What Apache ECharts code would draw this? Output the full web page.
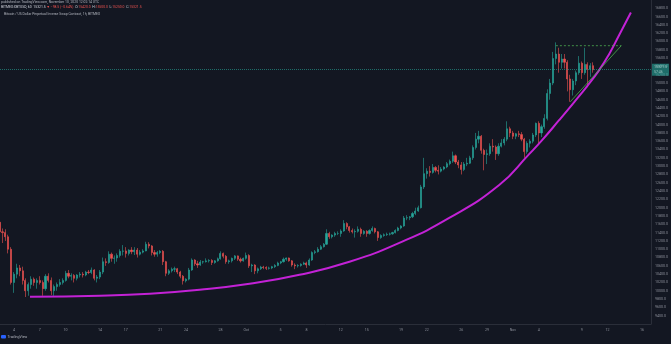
<!DOCTYPE html>
<html>
<head>
<meta charset="utf-8">
<script src="https://cdn.jsdelivr.net/npm/echarts@6/dist/echarts.min.js"></script>
<style>
  html, body { margin: 0; padding: 0; background: #131722; }
  #chart { width: 671px; height: 344px; }
</style>
</head>
<body>
<div id="chart"></div>
<script>
// XBTUSD 8-hour candles, Sep 2 08:00 UTC to Nov 10 2020 — [open, high, low, close]
const candles = [
  [11650,11700,11300,11420],[11420,11500,11150,11400],
  [11400,11480,11200,11300],[11300,11350,10900,11000],[11000,11050,10150,10200],
  [10200,10450,9950,10400],[10400,10650,10300,10550],[10550,10620,10350,10480],
  [10480,10580,10150,10250],[10250,10300,9850,10000],[10000,10200,9880,10150],
  [10150,10350,10050,10280],[10280,10320,10120,10200],[10200,10300,10050,10250],
  [10250,10350,10150,10200],[10200,10250,9880,10050],[10050,10400,10000,10350],
  [10350,10420,10200,10250],[10250,10320,9900,10000],[10000,10150,9880,10100],
  [10100,10200,10000,10150],[10150,10280,10100,10200],[10200,10300,10150,10250],
  [10250,10480,10220,10420],[10420,10500,10300,10350],[10350,10420,10250,10370],
  [10370,10400,10200,10300],[10300,10400,10250,10380],[10380,10450,10320,10400],
  [10400,10450,10320,10380],[10380,10480,10350,10450],[10450,10500,10400,10440],
  [10440,10560,10400,10500],[10500,10520,10250,10300],[10300,10380,10200,10330],
  [10330,10500,10280,10450],[10450,10800,10400,10700],[10700,10780,10600,10680],
  [10680,10950,10650,10880],[10880,10920,10700,10780],[10780,10850,10650,10790],
  [10790,10900,10700,10850],[10850,11000,10800,10950],[10950,11100,10850,10960],
  [10960,11050,10800,10900],[10900,11000,10850,10980],[10980,11050,10880,10940],
  [10940,11050,10860,10980],[10980,11030,10800,10880],[10880,10980,10850,10930],
  [10930,11000,10900,10960],[10960,11180,10950,11120],[11120,11170,11020,11080],
  [11080,11100,10850,10920],[10920,10980,10820,10880],[10880,10960,10820,10920],
  [10920,10980,10880,10950],[10950,10980,10620,10700],[10700,10720,10350,10420],
  [10420,10520,10380,10480],[10480,10560,10440,10520],[10520,10580,10450,10530],
  [10530,10550,10400,10450],[10450,10480,10300,10350],[10350,10380,10150,10240],
  [10240,10300,10200,10280],[10280,10550,10250,10500],[10500,10780,10480,10740],
  [10740,10760,10600,10650],[10650,10720,10550,10620],[10620,10740,10600,10690],
  [10690,10720,10650,10700],[10700,10780,10680,10720],[10720,10760,10680,10730],
  [10730,10760,10620,10680],[10680,10740,10650,10720],[10720,10800,10700,10770],
  [10770,10950,10750,10900],[10900,10920,10780,10830],[10830,10860,10650,10700],
  [10700,10750,10650,10720],[10720,10800,10680,10780],[10780,10860,10740,10840],
  [10840,10850,10720,10760],[10760,10800,10680,10720],[10720,10800,10700,10780],
  [10780,10920,10750,10850],[10850,10880,10550,10600],[10600,10650,10450,10620],
  [10620,10640,10400,10480],[10480,10560,10420,10530],[10530,10600,10500,10570],
  [10570,10600,10520,10560],[10560,10590,10500,10540],[10540,10580,10510,10550],
  [10550,10600,10520,10580],[10580,10640,10550,10610],[10610,10700,10590,10670],
  [10670,10720,10640,10700],[10700,10800,10680,10760],[10760,10800,10720,10790],
  [10790,10800,10700,10720],[10720,10740,10580,10620],[10620,10660,10520,10600],
  [10600,10640,10560,10610],[10610,10660,10580,10640],[10640,10700,10620,10670],
  [10670,10700,10550,10620],[10620,10780,10600,10740],[10740,10950,10720,10920],
  [10920,10980,10880,10940],[10940,11050,10920,11000],[11000,11100,10980,11060],
  [11060,11150,11040,11120],[11120,11480,11100,11380],[11380,11420,11250,11300],
  [11300,11360,11260,11340],[11340,11420,11300,11380],[11380,11430,11340,11380],
  [11380,11480,11300,11440],[11440,11700,11420,11620],[11620,11650,11480,11540],
  [11540,11560,11400,11450],[11450,11500,11380,11420],[11420,11480,11280,11430],
  [11430,11550,11400,11480],[11480,11520,11300,11380],[11380,11460,11350,11430],
  [11430,11460,11300,11380],[11380,11480,11350,11450],[11450,11550,11420,11500],
  [11500,11520,11380,11420],[11420,11440,11200,11280],[11280,11360,11250,11330],
  [11330,11380,11300,11350],[11350,11400,11320,11360],[11360,11400,11330,11370],
  [11370,11420,11350,11400],[11400,11480,11380,11450],[11450,11540,11430,11510],
  [11510,11580,11480,11560],[11560,11800,11540,11750],[11750,11820,11700,11760],
  [11760,11800,11700,11780],[11780,11900,11750,11860],[11860,12000,11820,11920],
  [11920,12050,11900,12000],[12000,12550,11980,12500],[12500,13200,12450,12820],
  [12820,12950,12700,12880],[12880,13000,12750,12850],[12850,13050,12820,12970],
  [12970,13000,12850,12900],[12900,13020,12800,12880],[12880,12980,12850,12930],
  [12930,13000,12900,12980],[12980,13100,12950,13060],[13060,13160,13020,13120],
  [13120,13350,13080,13250],[13250,13280,13050,13100],[13100,13150,12950,13030],
  [13030,13100,12800,12920],[12920,13100,12880,13050],[13050,13200,13000,13070],
  [13070,13250,13050,13200],[13200,13500,13150,13450],[13450,13800,13400,13650],
  [13650,13850,13550,13720],[13720,13750,13300,13380],[13380,13420,12900,13280],
  [13280,13400,13050,13300],[13300,13550,13250,13480],[13480,13650,13350,13460],
  [13460,13500,13150,13300],[13300,13550,13250,13480],[13480,13650,13450,13560],
  [13560,13700,13500,13650],[13650,14080,13600,13900],[13900,13950,13700,13800],
  [13800,13850,13650,13720],[13720,13800,13650,13780],[13780,13850,13700,13760],
  [13760,13820,13600,13650],[13650,13680,13200,13350],[13350,13600,13300,13550],
  [13550,13650,13450,13600],[13600,13800,13550,13750],[13750,14050,13700,14030],
  [14030,14080,13550,13800],[13800,14000,13700,13950],[13950,14250,13900,14150],
  [14150,14850,14100,14750],[14750,15100,14600,15000],[15000,15750,14950,15590],
  [15590,15980,15450,15700],[15700,15850,15250,15500],[15500,15700,15350,15580],
  [15580,15700,15350,15500],[15500,15550,14800,15100],[15100,15200,14550,14840],
  [14840,15100,14700,15050],[15050,15300,14950,15250],[15250,15650,15200,15480],
  [15480,15520,15100,15250],[15250,15850,15200,15450],[15450,15500,14900,15330],
  [15330,15480,15150,15420],[15420,15500,15250,15321.5]
];
// first candle open time, in days after Sep 1 00:00 UTC, and candle length
const firstCandleDay = 1 + 8 / 24;
const candleStepDays = 8 / 24;

// parabolic support curve (day, price)
const curveDays   = [4.86, 12.98, 18.78, 24.59, 30.39, 36.19, 42.0, 47.8, 53.6, 59.41, 62.89, 64.4, 66.37, 68.11, 69.62, 71.01, 72.17, 73.33, 74.72];
const curvePrices = [9856, 9880, 9928, 10024, 10168, 10384, 10697, 11153, 11753, 12545, 13290, 13626, 14106, 14538, 14922, 15306, 15690, 16147, 16699];

// triangle drawn over the November range
const resistanceLine = [[66.0, 15900], [73.6, 15900]];
const supportLine    = [[67.67, 14550], [73.6, 15900]];

// time-axis ticks (days after Sep 1) and their labels
const tickDays   = [3, 6, 9, 13, 16, 20, 23, 27, 30, 34, 37, 41, 44, 48, 51, 55, 58, 61, 64, 69, 72, 76];
const tickLabels = ['4', '7', '10', '14', '17', '21', '24', '28', 'Oct', '5', '8', '12', '15', '19', '22', '26', '29', 'Nov', '4', '9', '12', '16'];

const countdown = '57:46';

const UP = '#26a69a', DOWN = '#ef5350';
const AXIS_TEXT = '#8a8e98';
const FONT = 'Roboto, "Noto Sans", sans-serif';

const candleData = candles.map((c, i) => [firstCandleDay + i * candleStepDays, c[0], c[3], c[2], c[1]]);
const curveData = curveDays.map((d, i) => [d, curvePrices[i]]);

const last = candles[candles.length - 1];
const prevClose = candles[candles.length - 2][3];
const change = last[3] - prevClose;
const changePct = change / prevClose * 100;
const fmt = v => v.toFixed(1);
const sign = v => (v < 0 ? '\u2212' : '+') + Math.abs(v).toFixed(v === change ? 1 : 2);

const chart = echarts.init(document.getElementById('chart'), null, { renderer: 'canvas' });

chart.setOption({
  backgroundColor: '#131722',
  animation: false,
  textStyle: { fontFamily: FONT },
  grid: { left: 0, right: 19, top: 0, bottom: 20 },
  xAxis: {
    type: 'value',
    min: 1.375,
    max: 77.05,
    axisLine: { show: true, lineStyle: { color: '#2a2e39', width: 1 } },
    axisTick: { show: false },
    splitLine: { show: false },
    axisLabel: {
      customValues: tickDays,
      formatter: v => tickLabels[tickDays.indexOf(v)] || '',
      color: AXIS_TEXT,
      fontSize: 3.6,
      margin: 4
    }
  },
  yAxis: {
    type: 'value',
    position: 'right',
    min: 9200,
    max: 17000,
    interval: 200,
    axisLine: { show: true, lineStyle: { color: '#2a2e39', width: 1 } },
    axisTick: { show: false },
    splitLine: { show: false },
    axisLabel: {
      formatter: v => v.toFixed(1),
      color: AXIS_TEXT,
      fontSize: 3.6,
      margin: 4,
      showMinLabel: false,
      showMaxLabel: false
    }
  },
  series: [
    {
      type: 'candlestick',
      data: candleData,
      encode: { x: 0, y: [1, 2, 3, 4] },
      barWidth: 1.6,
      itemStyle: { color: UP, color0: DOWN, borderColor: UP, borderColor0: DOWN, borderWidth: 0.6 },
      markLine: {
        silent: true,
        symbol: 'none',
        data: [{ yAxis: last[3] }],
        lineStyle: { color: UP, type: 'dotted', width: 1, opacity: 0.6 },
        label: {
          position: 'end',
          distance: 1,
          formatter: () => '{p|' + fmt(last[3]) + '}\n{t|' + countdown + '}',
          backgroundColor: UP,
          padding: [1, 2, 1, 2],
          rich: {
            p: { color: '#ffffff', fontSize: 3.6, lineHeight: 5, fontFamily: FONT },
            t: { color: '#e0f2f1', fontSize: 3.6, lineHeight: 5, fontFamily: FONT }
          }
        }
      },
      z: 2
    },
    {
      type: 'line',
      data: curveData,
      smooth: true,
      symbol: 'none',
      lineStyle: { color: '#c322d6', width: 2 },
      z: 3
    },
    {
      type: 'line',
      data: resistanceLine,
      symbol: 'none',
      lineStyle: { color: '#4caf50', width: 0.8, type: [2, 2] },
      z: 3
    },
    {
      type: 'line',
      data: supportLine,
      symbol: 'none',
      lineStyle: { color: '#4caf50', width: 0.8 },
      z: 3
    }
  ],
  graphic: [
    {
      type: 'text', left: 1, top: 1,
      style: { text: 'published on TradingView.com, November 10, 2020 12:02:14 UTC', fill: '#b2b5be', fontSize: 3.4, fontFamily: FONT }
    },
    {
      type: 'text', left: 1, top: 5.5,
      style: {
        text: '{w|BITMEX:XBTUSD, 60  ' + fmt(last[3]) + ' }{r|\u25BC ' + sign(change) + ' (' + sign(changePct) + '%)}{w|  O:}{r|' + fmt(last[0]) +
              '}{w|  H:}{r|' + fmt(last[1]) + '}{w|  L:}{r|' + fmt(last[2]) + '}{w|  C:}{r|' + fmt(last[3]) + '}',
        fontSize: 3.4, fontFamily: FONT,
        rich: {
          w: { fill: '#d1d4dc', fontSize: 3.4, fontFamily: FONT },
          r: { fill: DOWN, fontSize: 3.4, fontFamily: FONT }
        }
      }
    },
    {
      type: 'text', left: 4, top: 13,
      style: { text: 'Bitcoin / US Dollar Perpetual Inverse Swap Contract, 1h, BITMEX', fill: '#b2b5be', fontSize: 3.4, fontFamily: FONT }
    },
    {
      type: 'rect', left: 1, top: 335, shape: { width: 5, height: 3.5, r: 1 },
      style: { fill: '#2962ff' }
    },
    {
      type: 'text', left: 7.5, top: 335,
      style: { text: 'TradingView', fill: '#b2b5be', fontSize: 3.6, fontFamily: FONT }
    }
  ]
});
</script>
</body>
</html>
